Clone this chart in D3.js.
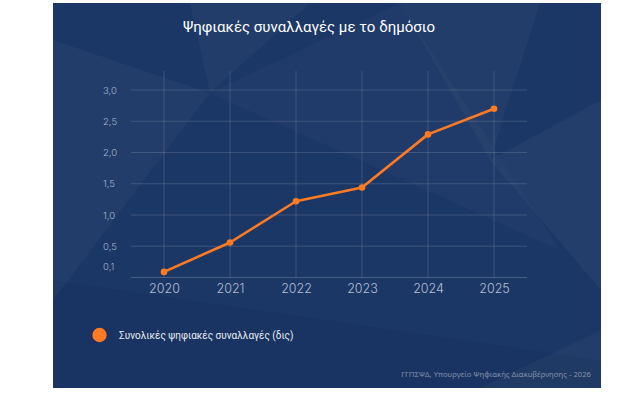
<!DOCTYPE html>
<html>
<head>
<meta charset="utf-8">
<script src="https://cdn.jsdelivr.net/npm/d3@7"></script>
<style>
  body { margin: 0; background: #ffffff; }
  svg { display: block; }
</style>
</head>
<body>
<div id="chart"></div>
<script>
// data
let years = ["2020", "2021", "2022", "2023", "2024", "2025"]
let totals = [0.09, 0.56, 1.22, 1.44, 2.29, 2.70]
let gridValues = [0, 0.5, 1.0, 1.5, 2.0, 2.5, 3.0]
let tickValues = [0.1, 0.5, 1.0, 1.5, 2.0, 2.5, 3.0]
let title = "Ψηφιακές συναλλαγές με το δημόσιο"
let seriesName = "Συνολικές ψηφιακές συναλλαγές (δις)"
let source = "ΓΓΠΣΨΔ, Υπουργείο Ψηφιακής Διακυβέρνησης - 2026"

var W = 630, H = 398
var panel = {x: 53, y: 3, w: 548, h: 385}
var plot = {left: 131, right: 527, top: 90, bottom: 277.5}

var svg = d3.select("#chart")
  .append("svg")
  .attr("width", W)
  .attr("height", H)

// background panel
svg.append("rect")
  .attr("x", panel.x).attr("y", panel.y)
  .attr("width", panel.w).attr("height", panel.h)
  .attr("fill", "#1b3766")

// faint facets in the background
svg.append("clipPath").attr("id", "clip")
  .append("rect")
  .attr("x", panel.x).attr("y", panel.y)
  .attr("width", panel.w).attr("height", panel.h)
var bg = svg.append("g").attr("clip-path", "url(#clip)")

let facets = [
  {p: [[53,40],[210,93],[53,300]], o: 0.03},
  {p: [[190,3],[310,3],[210,93]], o: 0.03},
  {p: [[210,93],[400,3],[560,250]], o: 0.025},
  {p: [[400,3],[540,3],[490,160]], o: 0.03},
  {p: [[490,160],[601,100],[601,290]], o: 0.035},
  {p: [[53,280],[601,360],[601,388],[53,388]], o: -0.04},
  {p: [[480,388],[601,330],[601,388]], o: 0.03}
]
facets.forEach(f => {
  bg.append("polygon")
    .attr("points", f.p.map(d => d.join(",")).join(" "))
    .attr("fill", f.o > 0 ? "#ffffff" : "#000000")
    .attr("opacity", Math.abs(f.o))
})

var x = d3.scalePoint()
  .domain(years)
  .range([plot.left, plot.right])
  .padding(0.5)

var y = d3.scaleLinear()
  .domain([0, 3])
  .range([plot.bottom, plot.top])

// vertical gridlines
svg.append("g")
  .selectAll("line")
  .data(years)
  .join("line")
  .attr("x1", d => x(d)).attr("x2", d => x(d))
  .attr("y1", 71).attr("y2", plot.bottom)
  .attr("stroke", "#ffffff")
  .attr("stroke-opacity", 0.14)

// horizontal gridlines
svg.append("g")
  .selectAll("line")
  .data(gridValues)
  .join("line")
  .attr("x1", plot.left).attr("x2", plot.right)
  .attr("y1", d => y(d)).attr("y2", d => y(d))
  .attr("stroke", "#ffffff")
  .attr("stroke-opacity", d => d == 0 ? 0.2 : 0.14)

// y axis labels
var yAxis = svg.append("g")
  .attr("transform", "translate(116,0)")
  .call(d3.axisLeft(y)
    .tickValues(tickValues)
    .tickSize(0)
    .tickFormat(d => d3.format(".1f")(d).replace(".", ",")))
yAxis.select(".domain").remove()
yAxis.selectAll("text")
  .attr("fill", "#a9b6cc")
  .attr("font-family", "Inter, sans-serif")
  .attr("font-weight", 300)
  .attr("font-size", 9.5)
  .attr("text-anchor", "start")
  .attr("x", 0)
  .attr("dx", "-13")
  .attr("dy", (d) => d == 0.1 ? "-0.15em" : "0.32em")

// x axis labels
var xAxis = svg.append("g")
  .attr("transform", "translate(0," + plot.bottom + ")")
  .call(d3.axisBottom(x).tickSize(0))
xAxis.select(".domain").remove()
xAxis.selectAll("text")
  .attr("fill", "#b4bfd2")
  .attr("font-family", "Inter, sans-serif")
  .attr("font-weight", 300)
  .attr("font-size", 12.5)
  .attr("y", 7)
  .attr("dy", "0.71em")

// the line
let points = years.map((yr, i) => ({year: yr, value: totals[i]}))

svg.append("path")
  .attr("d", d3.line().x(d => x(d.year)).y(d => y(d.value))(points))
  .attr("fill", "none")
  .attr("stroke", "#ff7a21")
  .attr("stroke-width", 2.6)
  .attr("stroke-linejoin", "round")

svg.append("g")
  .selectAll("circle")
  .data(points)
  .join("circle")
  .attr("cx", d => x(d.year))
  .attr("cy", d => y(d.value))
  .attr("r", 3.3)
  .attr("fill", "#ff7a21")

// title
svg.append("text")
  .attr("x", 309)
  .attr("y", 32)
  .attr("text-anchor", "middle")
  .attr("fill", "#ffffff")
  .attr("font-family", "Roboto, sans-serif")
  .attr("font-size", 15)
  .text(title)

// legend
svg.append("circle")
  .attr("cx", 99.5)
  .attr("cy", 335)
  .attr("r", 7.2)
  .attr("fill", "#ff7a21")

svg.append("text")
  .attr("x", 119)
  .attr("y", 339)
  .attr("fill", "#e6ebf3")
  .attr("font-family", "Roboto, sans-serif")
  .attr("font-size", 10)
  .text(seriesName)

// source
svg.append("text")
  .attr("x", 591)
  .attr("y", 377)
  .attr("text-anchor", "end")
  .attr("fill", "#8391aa")
  .attr("font-family", "'Noto Sans', sans-serif")
  .attr("font-size", 7.7)
  .text(source)
</script>
</body>
</html>
